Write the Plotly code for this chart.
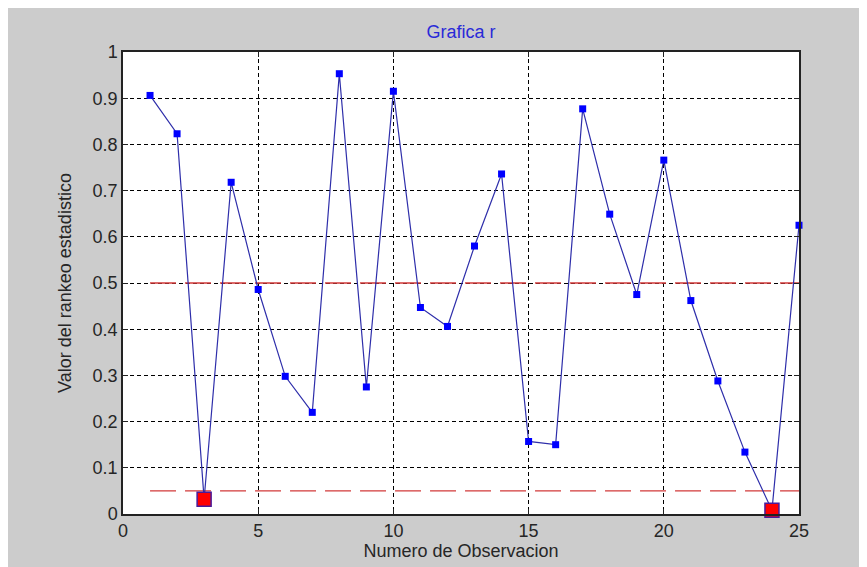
import plotly.graph_objects as go

# Data
observaciones = list(range(1, 26))
valores_r = [0.906, 0.823, 0.032, 0.718, 0.486, 0.298, 0.220, 0.953, 0.275, 0.915,
             0.447, 0.406, 0.580, 0.736, 0.157, 0.150, 0.877, 0.649, 0.475, 0.766,
             0.462, 0.288, 0.134, 0.008, 0.625]
destacados_x = [3, 24]
umbrales = [0.5, 0.05]
umbral_x = [1, 25]
x_ticks = [0, 5, 10, 15, 20, 25]
y_ticks = [0, 0.1, 0.2, 0.3, 0.4, 0.5, 0.6, 0.7, 0.8, 0.9, 1]

W, H = 876, 576
L, R, T, B = 115, 85, 44, 70
FONT = "Liberation Sans, Arial, sans-serif"
FS = 18

fig = go.Figure()

for u in umbrales:
    fig.add_trace(go.Scatter(
        x=umbral_x, y=[u, u], mode="lines",
        line=dict(color="#d23a3a", width=1.3, dash="26px,9px"),
        showlegend=False, hoverinfo="skip"))

fig.add_trace(go.Scatter(
    x=observaciones, y=valores_r, mode="lines+markers",
    line=dict(color="#2e2eaa", width=1.2),
    marker=dict(symbol="square", size=7, color="#0000ff", line=dict(width=0)),
    showlegend=False, cliponaxis=False))

dest_y = [valores_r[observaciones.index(v)] for v in destacados_x]
fig.add_trace(go.Scatter(
    x=destacados_x, y=dest_y, mode="markers",
    marker=dict(symbol="square", size=14, color="#ff0000",
                line=dict(width=1.5, color="#4a1a9a")),
    showlegend=False, cliponaxis=False))

axis_common = dict(
    showgrid=True, gridcolor="#000000", gridwidth=1, griddash="4px,3px",
    showline=True, linecolor="#222222", linewidth=1.5, mirror="ticks",
    ticks="inside", ticklen=5, tickcolor="#222222", tickwidth=1.2,
    zeroline=False,
    tickfont=dict(family=FONT, size=FS, color="#262626"),
)

pw = W - L - R
fig.update_layout(
    width=W, height=H,
    margin=dict(l=L, r=R, t=T, b=B),
    paper_bgcolor="#cccccc",
    plot_bgcolor="#ffffff",
    title=dict(text="Grafica r", x=(L + pw / 2) / W, xanchor="center",
               y=1 - 24 / H, yanchor="middle",
               font=dict(family=FONT, size=FS, color="#2a2ad8")),
    xaxis=dict(range=[0, 25], tickvals=x_ticks, ticktext=[str(v) for v in x_ticks],
               title=dict(text="Numero de Observacion", standoff=2,
                          font=dict(family=FONT, size=FS, color="#262626")),
               **axis_common),
    yaxis=dict(range=[0, 1], tickvals=y_ticks,
               ticktext=["0", "0.1", "0.2", "0.3", "0.4", "0.5", "0.6", "0.7", "0.8", "0.9", "1"],
               title=dict(text="Valor del rankeo estadistico", standoff=16,
                          font=dict(family=FONT, size=FS, color="#262626")),
               **axis_common),
)

fig.write_html(
    "out.html",
    post_script="document.documentElement.style.overflow='hidden';document.body.style.overflow='hidden';",
)
